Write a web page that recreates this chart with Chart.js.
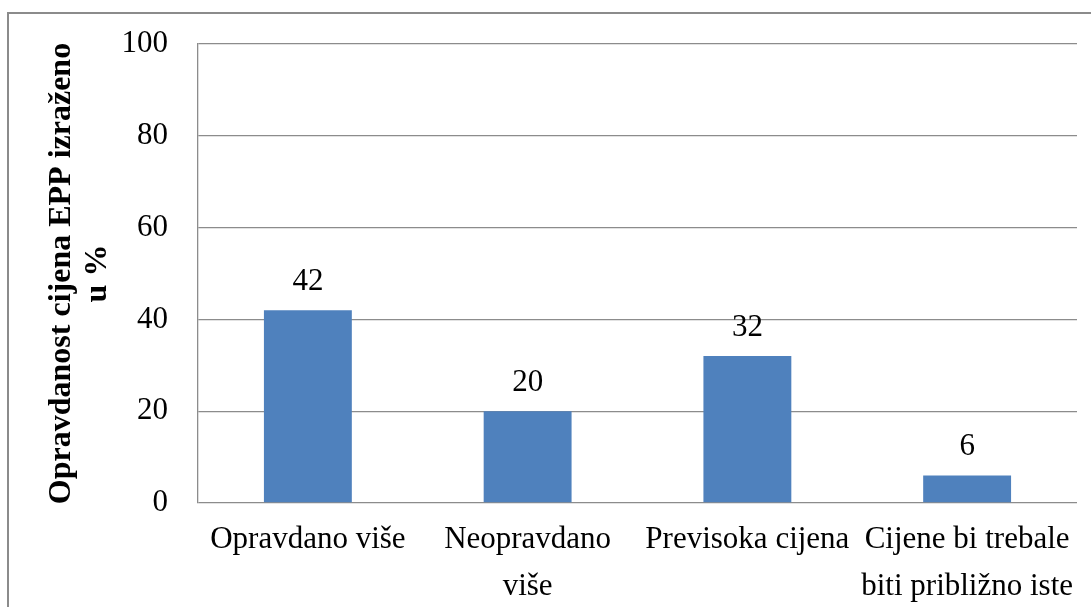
<!DOCTYPE html>
<html>
<head>
<meta charset="utf-8">
<script src="https://cdn.jsdelivr.net/npm/chart.js@4"></script>
<style>
  html, body { margin: 0; padding: 0; background: #fff; overflow: hidden; }
  #wrap { position: relative; width: 1091px; height: 607px; }
  #frame { position: absolute; left: 7px; top: 12px; width: 1110px; height: 620px; border: 2px solid #8b8b8b; }
  canvas { position: absolute; left: 0; top: 0; }
</style>
</head>
<body>
<div id="wrap">
  <div id="frame"></div>
  <canvas id="chart" width="1091" height="607"></canvas>
</div>
<script>
// Data
const categories = [
    ['Opravdano više'],
    ['Neopravdano', 'više'],
    ['Previsoka cijena'],
    ['Cijene bi trebale', 'biti približno iste']
];
const values = [42, 20, 32, 6];
const yTicks = [0, 20, 40, 60, 80, 100];
const yTitle = ['Opravdanost cijena EPP izraženo', 'u %'];

const FONT = "'Liberation Serif', 'Times New Roman', serif";

// Value labels above bars
const valueLabels = {
    id: 'valueLabels',
    afterDatasetsDraw(chart) {
        const ctx = chart.ctx;
        const meta = chart.getDatasetMeta(0);
        ctx.save();
        ctx.font = `31px ${FONT}`;
        ctx.fillStyle = '#000';
        ctx.textAlign = 'center';
        ctx.textBaseline = 'alphabetic';
        meta.data.forEach((bar, i) => {
            ctx.fillText(String(values[i]), bar.x, bar.y - 20);
        });
        ctx.restore();
    }
};

const ctx = document.getElementById('chart').getContext('2d');
new Chart(ctx, {
    type: 'bar',
    data: {
        labels: categories,
        datasets: [{
            data: values,
            backgroundColor: '#4F81BD',
            borderWidth: 0,
            categoryPercentage: 0.8,
            barPercentage: 0.5
        }]
    },
    options: {
        responsive: false,
        animation: false,
        layout: { padding: { left: 0, top: 44, right: 14, bottom: 0 } },
        plugins: {
            legend: { display: false },
            tooltip: { enabled: false }
        },
        scales: {
            x: {
                grid: { display: false },
                border: { display: false },
                afterFit: (scale) => { scale.height = 104; },
                ticks: {
                    color: '#000',
                    autoSkip: false,
                    maxRotation: 0,
                    minRotation: 0,
                    padding: 6,
                    font: { family: FONT, size: 31, lineHeight: 1.5 }
                }
            },
            y: {
                min: 0,
                max: 100,
                afterFit: (scale) => {
                    scale.width = 198;
                    scale.paddingTop = 0;
                    scale.paddingBottom = 0;
                },
                afterBuildTicks: (scale) => { scale.ticks = yTicks.map(v => ({ value: v })); },
                grid: { color: '#8c8c8c', lineWidth: 1.3, drawTicks: false },
                border: { color: '#8c8c8c', width: 1.3 },
                ticks: {
                    color: '#000',
                    padding: 30,
                    font: { family: FONT, size: 31 }
                },
                title: {
                    display: true,
                    text: yTitle,
                    color: '#000',
                    padding: { top: 44, bottom: 0 },
                    font: { family: FONT, size: 32, weight: 'bold', lineHeight: 1.12 }
                }
            }
        }
    },
    plugins: [valueLabels]
});
</script>
</body>
</html>
